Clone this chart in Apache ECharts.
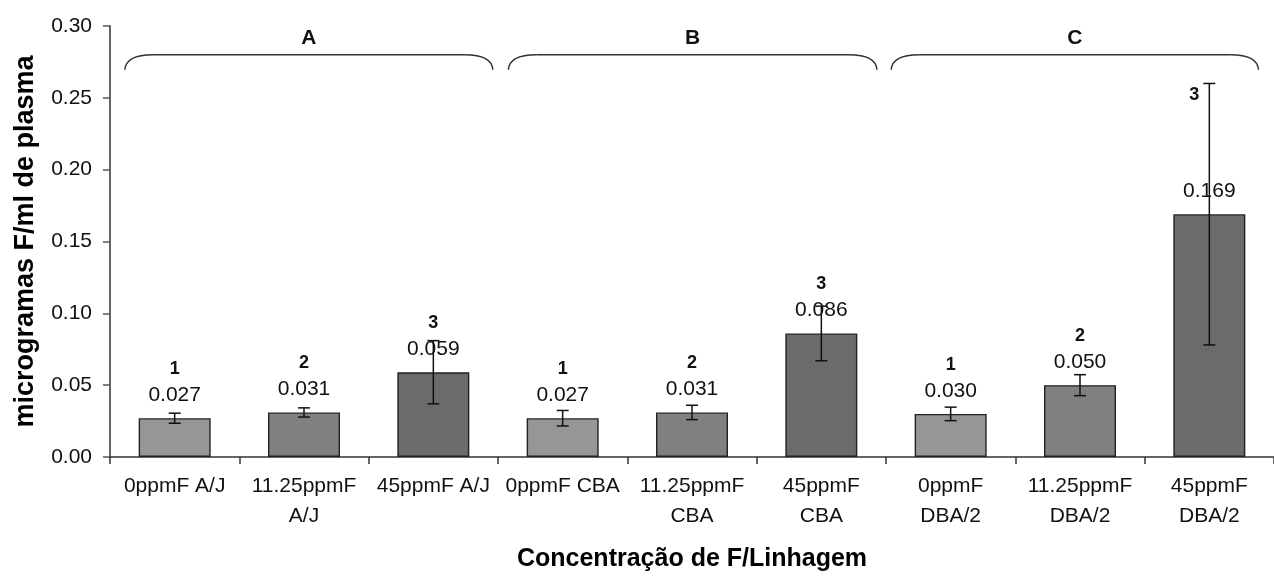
<!DOCTYPE html>
<html>
<head>
<meta charset="utf-8">
<script src="https://cdn.jsdelivr.net/npm/echarts@6/dist/echarts.min.js"></script>
<style>
html,body{margin:0;padding:0;background:#fff;}
#chart{width:1274px;height:577px;}
</style>
</head>
<body>
<div id="chart"></div>
<script>
// ---- data ----
const categories = ['0ppmF A/J', '11.25ppmF\nA/J', '45ppmF A/J', '0ppmF CBA', '11.25ppmF\nCBA', '45ppmF\nCBA', '0ppmF\nDBA/2', '11.25ppmF\nDBA/2', '45ppmF\nDBA/2'];
const means = [0.027, 0.031, 0.059, 0.027, 0.031, 0.086, 0.030, 0.050, 0.169];
const errors = [0.0035, 0.0032, 0.022, 0.0054, 0.005, 0.019, 0.0047, 0.0073, 0.091];
const ranks = ['1', '2', '3', '1', '2', '3', '1', '2', '3'];
const groupLabels = ['A', 'B', 'C'];
const yMin = 0, yMax = 0.30, yStep = 0.05;
const xTitle = 'Concentração de F/Linhagem';
const yTitle = 'microgramas F/ml de plasma';

// ---- styles ----
const FONT = "'Liberation Sans', Arial, sans-serif";
const rankColors = ['#969696', '#808080', '#6b6b6b'];
const braceSpans = [[0.115, 2.96], [3.08, 5.93], [6.04, 8.88]];

const chart = echarts.init(document.getElementById('chart'), null, {renderer: 'canvas'});

const barData = means.map((v, i) => {
  const item = {
    value: v,
    itemStyle: {color: rankColors[i % 3]}
  };
  if (i === 8) {
    item.label = {formatter: () => '{v|' + v.toFixed(3) + '}'};
  }
  return item;
});

const option = {
  animation: false,
  backgroundColor: '#fff',
  grid: {left: 110, top: 26, width: 1174, height: 433, containLabel: false},
  xAxis: {
    type: 'category',
    data: categories,
    axisLine: {lineStyle: {color: '#333', width: 1.5}},
    axisTick: {show: true, length: 7, lineStyle: {color: '#333', width: 1.5}},
    axisLabel: {
      interval: 0, margin: 14, fontFamily: FONT, fontSize: 21, color: '#111', lineHeight: 30
    },
    name: xTitle,
    nameLocation: 'middle',
    nameGap: 90,
    nameTextStyle: {fontFamily: FONT, fontSize: 25, fontWeight: 'bold', color: '#000'}
  },
  yAxis: {
    type: 'value',
    min: yMin, max: yMax, interval: yStep,
    splitLine: {show: false},
    axisLine: {show: true, lineStyle: {color: '#555', width: 1.8}},
    axisTick: {show: true, length: 7, lineStyle: {color: '#555', width: 1.5}},
    axisLabel: {
      margin: 18, fontFamily: FONT, fontSize: 21, color: '#111',
      formatter: v => v.toFixed(2)
    },
    name: yTitle,
    nameLocation: 'middle',
    nameGap: 71,
    nameTextStyle: {fontFamily: FONT, fontSize: 27, fontWeight: 'bold', color: '#000'}
  },
  series: [
    {
      type: 'bar',
      data: barData,
      barWidth: 72,
      z: 2,
      itemStyle: {borderColor: '#222', borderWidth: 1.4},
      label: {
        show: true,
        position: 'top',
        distance: 10,
        formatter: p => '{n|' + ranks[p.dataIndex] + '}\n{v|' + p.value.toFixed(3) + '}',
        rich: {
          n: {fontFamily: FONT, fontSize: 18, fontWeight: 'bold', color: '#111', lineHeight: 26, align: 'center'},
          v: {fontFamily: FONT, fontSize: 21, color: '#111', lineHeight: 26, align: 'center'}
        }
      }
    },
    {
      type: 'custom',
      z: 10,
      data: means.map((v, i) => [i, v - errors[i], v + errors[i]]),
      renderItem: function (params, api) {
        const x = api.coord([api.value(0), 0])[0];
        const lo = api.coord([api.value(0), api.value(1)])[1];
        const hi = api.coord([api.value(0), api.value(2)])[1];
        const cap = 6;
        const style = {stroke: '#111', lineWidth: 1.5};
        return {
          type: 'group',
          children: [
            {type: 'line', shape: {x1: x, y1: lo, x2: x, y2: hi}, style},
            {type: 'line', shape: {x1: x - cap, y1: hi, x2: x + cap, y2: hi}, style},
            {type: 'line', shape: {x1: x - cap, y1: lo, x2: x + cap, y2: lo}, style}
          ]
        };
      }
    }
  ]
};

chart.setOption(option);

// ---- group braces and special rank label ----
const px0 = chart.convertToPixel({xAxisIndex: 0}, 0);
const px1 = chart.convertToPixel({xAxisIndex: 0}, 1);
const catW = px1 - px0;
const axisStart = px0 - catW / 2;
const yTop = chart.convertToPixel({yAxisIndex: 0}, 0.28);
const yEnd = chart.convertToPixel({yAxisIndex: 0}, 0.2695);
const braceStyle = {stroke: '#333', lineWidth: 1.5, fill: null};
const graphics = [];
braceSpans.forEach((s, k) => {
  const x0 = axisStart + s[0] * catW;
  const x1 = axisStart + s[1] * catW;
  const r = 28;
  graphics.push({type: 'bezierCurve', shape: {x1: x0, y1: yEnd, cpx1: x0 + 1, cpy1: yTop, x2: x0 + r, y2: yTop}, style: braceStyle, silent: true});
  graphics.push({type: 'line', shape: {x1: x0 + r, y1: yTop, x2: x1 - r, y2: yTop}, style: braceStyle, silent: true});
  graphics.push({type: 'bezierCurve', shape: {x1: x1 - r, y1: yTop, cpx1: x1 - 1, cpy1: yTop, x2: x1, y2: yEnd}, style: braceStyle, silent: true});
  graphics.push({
    type: 'text', silent: true,
    x: (x0 + x1) / 2, y: yTop - 17,
    style: {text: groupLabels[k], fontFamily: FONT, fontSize: 21, fontWeight: 'bold', fill: '#111', align: 'center', verticalAlign: 'middle'}
  });
});
// rank label for the last bar sits beside the top of its error bar
const lastX = chart.convertToPixel({xAxisIndex: 0}, 8);
const lastTop = chart.convertToPixel({yAxisIndex: 0}, means[8] + errors[8]);
graphics.push({
  type: 'text', silent: true,
  x: lastX - 15, y: lastTop + 12,
  style: {text: ranks[8], fontFamily: FONT, fontSize: 18, fontWeight: 'bold', fill: '#111', align: 'center', verticalAlign: 'middle'}
});
chart.setOption({graphic: graphics});
</script>
</body>
</html>
